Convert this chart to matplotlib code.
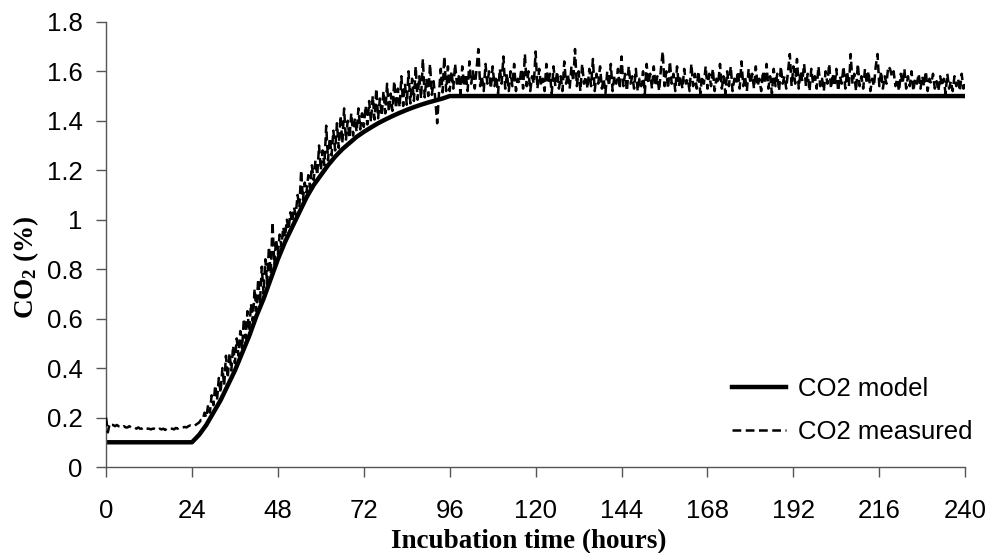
import numpy as np
import matplotlib
matplotlib.use("Agg")
import matplotlib.pyplot as plt
from matplotlib.ticker import FuncFormatter

plt.rcParams["font.family"] = ["Liberation Sans", "DejaVu Sans"]
plt.rcParams["mathtext.fontset"] = "custom"
plt.rcParams["mathtext.rm"] = "Liberation Serif:bold"
plt.rcParams["mathtext.it"] = "Liberation Serif:bold"
plt.rcParams["mathtext.bf"] = "Liberation Serif:bold"

# model curve (hours, % CO2)
model_t = [0, 24, 26, 28, 30, 32, 34, 36, 38, 40, 42, 44, 46, 48, 50, 52, 54, 56, 58,
           60, 62, 64, 66, 68, 70, 72, 74, 76, 78, 80, 82, 84, 86, 88, 90, 92, 94, 96, 240]
model_v = [0.10, 0.10, 0.13, 0.17, 0.22, 0.27, 0.33, 0.39, 0.46, 0.53, 0.61, 0.68, 0.76,
           0.84, 0.91, 0.97, 1.03, 1.09, 1.14, 1.18, 1.22, 1.255, 1.285, 1.31, 1.335, 1.355,
           1.373, 1.39, 1.405, 1.419, 1.432, 1.444, 1.455, 1.465, 1.474, 1.482, 1.49, 1.50, 1.50]

# measured CO2, one reading every half hour from t = 0
measured = [
    # 0 - 23.5 h
    0.20, 0.14, 0.175, 0.17, 0.17, 0.165, 0.17, 0.165, 0.165, 0.16, 0.165, 0.16,
    0.16, 0.165, 0.16, 0.158, 0.16, 0.155, 0.16, 0.155, 0.155, 0.16, 0.155, 0.155,
    0.155, 0.152, 0.155, 0.155, 0.152, 0.15, 0.155, 0.152, 0.155, 0.15, 0.155, 0.152,
    0.155, 0.155, 0.152, 0.158, 0.155, 0.16, 0.158, 0.16, 0.162, 0.16, 0.165, 0.168,
    # 24 - 47.5 h
    0.165, 0.165, 0.17, 0.175, 0.18, 0.19, 0.19, 0.22, 0.20, 0.25, 0.22, 0.29,
    0.25, 0.33, 0.27, 0.36, 0.30, 0.40, 0.33, 0.45, 0.36, 0.46, 0.39, 0.49,
    0.42, 0.52, 0.45, 0.55, 0.48, 0.60, 0.52, 0.63, 0.55, 0.66, 0.59, 0.72,
    0.63, 0.76, 0.66, 0.81, 0.70, 0.84, 0.74, 0.89, 0.78, 0.99, 0.82, 0.92,
    # 48 - 71.5 h
    0.86, 0.94, 0.89, 0.97, 0.93, 1.00, 0.96, 1.03, 0.99, 1.05, 1.02, 1.10,
    1.05, 1.20, 1.08, 1.15, 1.11, 1.18, 1.13, 1.22, 1.16, 1.24, 1.18, 1.30,
    1.20, 1.28, 1.22, 1.38, 1.24, 1.33, 1.26, 1.36, 1.28, 1.39, 1.29, 1.42,
    1.31, 1.45, 1.32, 1.40, 1.33, 1.43, 1.34, 1.41, 1.355, 1.45, 1.365, 1.43,
    # 72 - 95.5 h
    1.375, 1.46, 1.385, 1.48, 1.395, 1.50, 1.405, 1.53, 1.41, 1.49, 1.42, 1.52,
    1.43, 1.55, 1.435, 1.51, 1.44, 1.56, 1.45, 1.53, 1.455, 1.58, 1.46, 1.55,
    1.465, 1.60, 1.47, 1.57, 1.48, 1.62, 1.485, 1.58, 1.49, 1.65, 1.495, 1.57,
    1.50, 1.63, 1.505, 1.56, 1.48, 1.39, 1.51, 1.61, 1.515, 1.66, 1.52, 1.62,
    # 96 - 143.5 h
    1.52, 1.60, 1.53, 1.63, 1.55, 1.58, 1.51, 1.62, 1.54, 1.59, 1.52, 1.64,
    1.55, 1.60, 1.53, 1.61, 1.69, 1.54, 1.58, 1.52, 1.63, 1.55, 1.60, 1.53,
    1.62, 1.54, 1.58, 1.51, 1.61, 1.55, 1.66, 1.53, 1.59, 1.52, 1.60, 1.54,
    1.63, 1.52, 1.57, 1.55, 1.61, 1.53, 1.67, 1.54, 1.60, 1.52, 1.58, 1.55,
    1.68, 1.53, 1.61, 1.54, 1.57, 1.52, 1.63, 1.55, 1.59, 1.51, 1.62, 1.54,
    1.60, 1.53, 1.58, 1.52, 1.64, 1.55, 1.59, 1.53, 1.62, 1.56, 1.69, 1.54,
    1.60, 1.52, 1.63, 1.55, 1.58, 1.53, 1.61, 1.54, 1.65, 1.52, 1.59, 1.55,
    1.62, 1.53, 1.57, 1.51, 1.60, 1.54, 1.63, 1.52, 1.58, 1.55, 1.61, 1.53,
    # 144 - 191.5 h
    1.66, 1.54, 1.59, 1.52, 1.62, 1.55, 1.58, 1.53, 1.61, 1.52, 1.57, 1.54,
    1.60, 1.51, 1.63, 1.55, 1.59, 1.53, 1.62, 1.54, 1.58, 1.52, 1.61, 1.68,
    1.54, 1.60, 1.53, 1.64, 1.55, 1.59, 1.52, 1.62, 1.54, 1.58, 1.53, 1.61,
    1.55, 1.57, 1.52, 1.63, 1.54, 1.59, 1.53, 1.60, 1.51, 1.58, 1.55, 1.62,
    1.53, 1.59, 1.54, 1.61, 1.52, 1.57, 1.55, 1.63, 1.53, 1.58, 1.51, 1.60,
    1.54, 1.62, 1.52, 1.57, 1.55, 1.60, 1.53, 1.64, 1.54, 1.58, 1.52, 1.61,
    1.55, 1.59, 1.53, 1.62, 1.54, 1.57, 1.52, 1.60, 1.55, 1.63, 1.53, 1.58,
    1.51, 1.61, 1.54, 1.59, 1.52, 1.62, 1.55, 1.58, 1.53, 1.60, 1.67, 1.54,
    # 192 - 240 h
    1.62, 1.55, 1.65, 1.53, 1.60, 1.56, 1.63, 1.54, 1.59, 1.52, 1.61, 1.55,
    1.58, 1.53, 1.62, 1.54, 1.57, 1.52, 1.60, 1.55, 1.63, 1.53, 1.59, 1.54,
    1.61, 1.52, 1.58, 1.55, 1.62, 1.53, 1.60, 1.54, 1.67, 1.55, 1.59, 1.52,
    1.63, 1.54, 1.58, 1.53, 1.61, 1.55, 1.60, 1.52, 1.57, 1.54, 1.62, 1.67,
    1.54, 1.60, 1.53, 1.58, 1.55, 1.62, 1.61, 1.58, 1.60, 1.54, 1.57, 1.52,
    1.59, 1.55, 1.61, 1.53, 1.58, 1.54, 1.60, 1.52, 1.57, 1.55, 1.59, 1.53,
    1.58, 1.54, 1.60, 1.52, 1.57, 1.55, 1.59, 1.53, 1.56, 1.52, 1.58, 1.54,
    1.57, 1.51, 1.59, 1.53, 1.56, 1.52, 1.58, 1.54, 1.57, 1.52, 1.59, 1.53,
    1.55,
]
measured_t = np.arange(len(measured)) * 0.5

x_ticks = list(range(0, 241, 24))
y_ticks = [0, 0.2, 0.4, 0.6, 0.8, 1.0, 1.2, 1.4, 1.6, 1.8]

fig = plt.figure(figsize=(9.91, 5.53), dpi=100)
ax = fig.add_axes([0.107, 0.1555, 0.867, 0.805])

ax.plot(model_t, model_v, color="black", lw=3.2, solid_joinstyle="round", label="CO2 model", zorder=2)
ax.plot(measured_t, measured, color="black", lw=1.8, ls=(0, (3.5, 1.8)), label="CO2 measured", zorder=3)

ax.set_xlim(0, 240)
ax.set_ylim(0, 1.8)
ax.set_xticks(x_ticks)
ax.set_yticks(y_ticks)
ax.yaxis.set_major_formatter(FuncFormatter(lambda v, p: f"{v:g}"))
ax.tick_params(direction="out", length=7, width=1, labelsize=18.5, colors="#555555",
               labelcolor="black")
ax.tick_params(axis="y", pad=10)
ax.tick_params(axis="x", pad=16)
for side in ("top", "right"):
    ax.spines[side].set_visible(False)
for side in ("left", "bottom"):
    ax.spines[side].set_color("#555555")
    ax.spines[side].set_linewidth(1)

ax.set_xlabel("Incubation time (hours)", fontfamily="Liberation Serif", fontweight="bold",
              fontsize=19.5)
ax.xaxis.set_label_coords(0.4925, -0.14)
ax.set_ylabel("CO$_2$ (%)", fontfamily="Liberation Serif", fontweight="bold", fontsize=19.5)
ax.yaxis.set_label_coords(-0.076, 0.45)

leg = ax.legend(loc="lower right", bbox_to_anchor=(1.035, 0.0), frameon=False, fontsize=18.5,
                handlelength=2.1, handletextpad=0.45, labelspacing=0.72)

fig.savefig("out.png", dpi=100)
